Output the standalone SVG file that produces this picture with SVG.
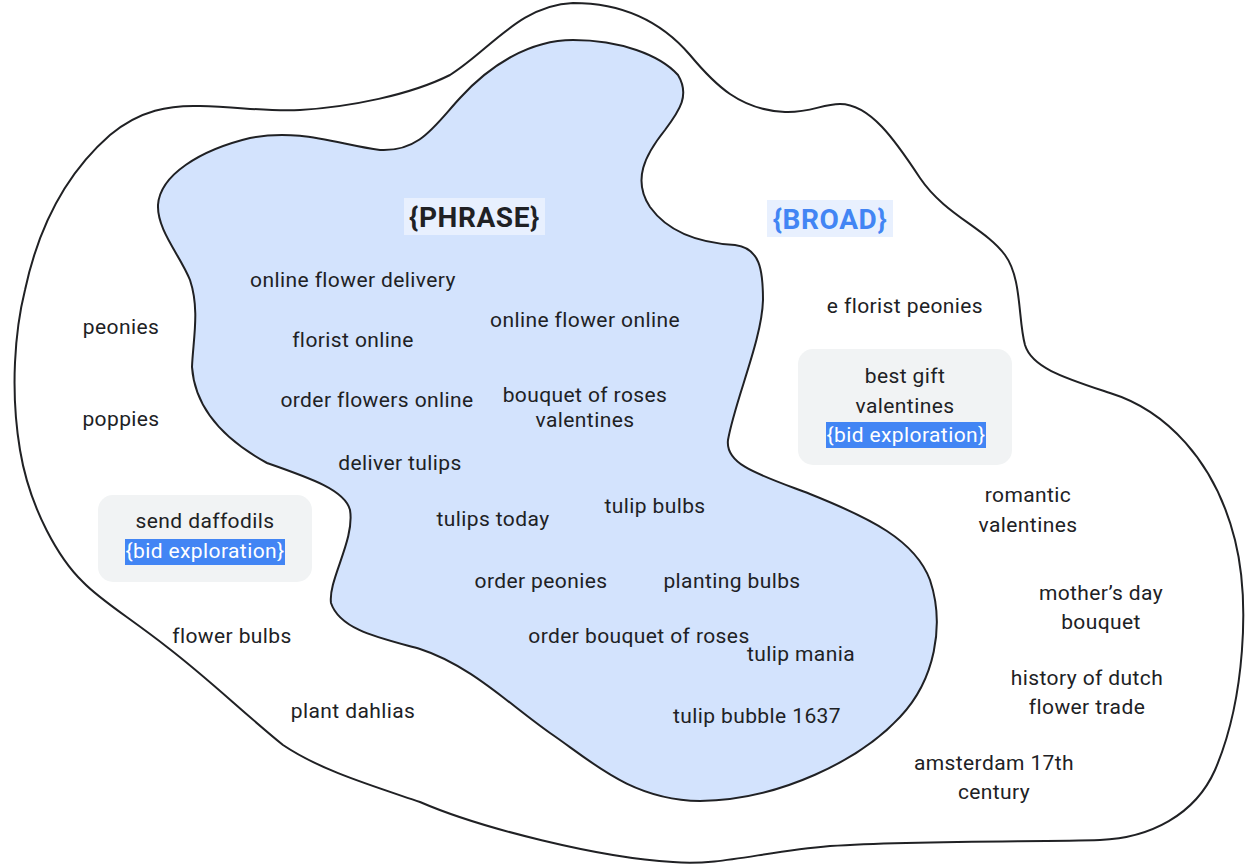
<svg xmlns="http://www.w3.org/2000/svg" width="1249" height="865" viewBox="0 0 1249 865">
<style>
.lbl{font-family:Roboto,"Liberation Sans",sans-serif;font-size:21px;letter-spacing:0.4px;fill:#202124;text-anchor:middle}
.title{font-family:Roboto,"Liberation Sans",sans-serif;font-size:28px;font-weight:bold;letter-spacing:0.6px;text-anchor:middle}
.box{fill:#f1f3f4}
.bidbg{fill:#4285f4}
.bid{font-family:Roboto,"Liberation Sans",sans-serif;font-size:21px;letter-spacing:0.4px;fill:#ffffff;text-anchor:middle}
.region{stroke:#202124;stroke-width:2;stroke-linejoin:round}
</style>
<rect width="1249" height="865" fill="#ffffff"/>
<g id="broad-region">
<path class="region" fill="#ffffff" d="M 573 3 C 620 3, 660 20, 690 55 C 715 85, 740 110, 785 112 C 810 113, 822 104, 840 104 C 870 104, 895 140, 920 178 C 945 215, 985 228, 1005 255 C 1022 278, 1018 320, 1025 345 C 1032 368, 1065 378, 1110 393 C 1165 410, 1215 460, 1235 540 C 1250 600, 1245 700, 1215 770 C 1195 815, 1150 838, 1100 840 C 1040 842, 920 840, 830 846 C 760 852, 720 866, 673 862 C 600 858, 480 828, 420 802 C 370 785, 320 770, 283 745 C 240 710, 210 680, 167 647 C 130 618, 100 600, 83 582 C 60 560, 30 510, 20 450 C 10 390, 15 330, 25 290 C 40 220, 70 170, 110 135 C 140 110, 170 105, 200 106 C 240 107, 270 112, 300 110 C 350 107, 410 95, 450 75 C 490 50, 520 5, 573 3 Z"/>
</g>
<g id="phrase-region">
<path class="region" fill="#d3e3fd" d="M 573 40 C 620 40, 660 55, 678 75 C 690 95, 680 110, 665 130 C 645 155, 632 180, 650 207 C 668 232, 700 243, 735 245 C 760 248, 763 270, 763 300 C 762 340, 735 400, 728 440 C 725 465, 760 475, 810 494 C 870 518, 915 540, 930 580 C 945 625, 935 680, 900 717 C 860 760, 780 800, 700 801 C 630 800, 590 760, 550 733 C 510 705, 470 665, 420 649 C 380 638, 340 630, 331 603 C 328 580, 355 540, 350 510 C 345 490, 310 478, 267 463 C 225 440, 195 410, 192 367 C 193 340, 200 310, 190 280 C 180 255, 157 230, 158 205 C 160 175, 200 150, 250 138 C 300 128, 340 145, 380 150 C 420 152, 435 125, 460 98 C 490 65, 530 40, 573 40 Z"/>
</g>
<g id="title-phrase">
<rect x="404" y="198" width="141" height="37" fill="#e8f0fe"/>
<text class="title" x="474.5" y="227" fill="#202124">{PHRASE}</text>
</g>
<g id="title-broad">
<rect x="767" y="200" width="126" height="37" fill="#e8f0fe"/>
<text class="title" x="830" y="229" fill="#4285f4">{BROAD}</text>
</g>
<g id="n-online-flower-delivery"><text class="lbl" x="353" y="287">online flower delivery</text></g>
<g id="n-florist-online"><text class="lbl" x="353" y="347">florist online</text></g>
<g id="n-online-flower-online"><text class="lbl" x="585" y="327">online flower online</text></g>
<g id="n-order-flowers-online"><text class="lbl" x="377" y="407">order flowers online</text></g>
<g id="n-bouquet-of-roses-valentines"><text class="lbl" x="585" y="402">bouquet of roses</text><text class="lbl" x="585" y="427">valentines</text></g>
<g id="n-deliver-tulips"><text class="lbl" x="400" y="470">deliver tulips</text></g>
<g id="n-tulips-today"><text class="lbl" x="493" y="526">tulips today</text></g>
<g id="n-tulip-bulbs"><text class="lbl" x="655" y="513">tulip bulbs</text></g>
<g id="n-order-peonies"><text class="lbl" x="541" y="588">order peonies</text></g>
<g id="n-planting-bulbs"><text class="lbl" x="732" y="588">planting bulbs</text></g>
<g id="n-order-bouquet-of-roses"><text class="lbl" x="639" y="643">order bouquet of roses</text></g>
<g id="n-tulip-mania"><text class="lbl" x="801" y="661">tulip mania</text></g>
<g id="n-tulip-bubble-1637"><text class="lbl" x="757" y="723">tulip bubble 1637</text></g>
<g id="n-peonies"><text class="lbl" x="121" y="334">peonies</text></g>
<g id="n-poppies"><text class="lbl" x="121" y="426">poppies</text></g>
<g id="n-send-daffodils">
<rect class="box" x="98" y="495" width="214" height="87" rx="15"/>
<text class="lbl" x="205" y="528">send daffodils</text>
<rect class="bidbg" x="125" y="539" width="160" height="26"/>
<text class="bid" x="205" y="558">{bid exploration}</text>
</g>
<g id="n-flower-bulbs"><text class="lbl" x="232" y="643">flower bulbs</text></g>
<g id="n-plant-dahlias"><text class="lbl" x="353" y="718">plant dahlias</text></g>
<g id="n-e-florist-peonies"><text class="lbl" x="905" y="313">e florist peonies</text></g>
<g id="n-best-gift-valentines">
<rect class="box" x="798" y="349" width="214" height="116" rx="15"/>
<text class="lbl" x="905" y="383">best gift</text>
<text class="lbl" x="905" y="413">valentines</text>
<rect class="bidbg" x="826" y="422" width="160" height="26"/>
<text class="bid" x="906" y="442">{bid exploration}</text>
</g>
<g id="n-romantic-valentines"><text class="lbl" x="1028" y="502">romantic</text><text class="lbl" x="1028" y="532">valentines</text></g>
<g id="n-mothers-day-bouquet"><text class="lbl" x="1101" y="600">mother’s day</text><text class="lbl" x="1101" y="629">bouquet</text></g>
<g id="n-history-of-dutch-flower-trade"><text class="lbl" x="1087" y="685">history of dutch</text><text class="lbl" x="1087" y="714">flower trade</text></g>
<g id="n-amsterdam-17th-century"><text class="lbl" x="994" y="770">amsterdam 17th</text><text class="lbl" x="994" y="799">century</text></g>
</svg>
